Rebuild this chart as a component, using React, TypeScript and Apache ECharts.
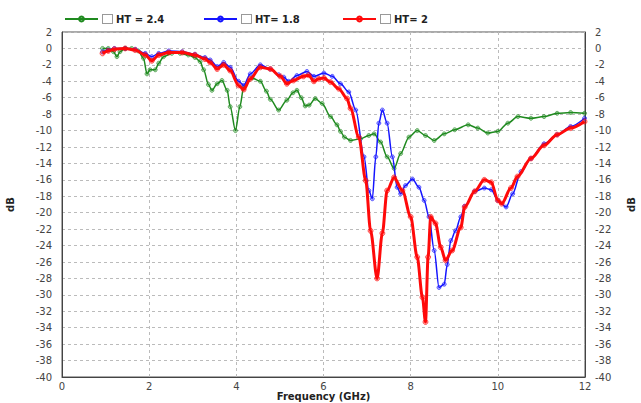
import React, { useEffect, useRef } from "react";
import * as echarts from "echarts";

const seriesNames = ["HT = 2.4", "HT= 1.8", "HT= 2"];
const seriesColors = ["#1f8a1f", "#1414ff", "#ff0a0a"];

const greenFreq = [0.93, 1.06, 1.18, 1.26, 1.33, 1.45, 1.6, 1.75, 1.87, 1.95, 2.02, 2.14, 2.22, 2.33, 2.52, 2.71, 2.9, 3.05, 3.17, 3.25, 3.36, 3.44, 3.56, 3.67, 3.79, 3.86, 3.98, 4.08, 4.17, 4.36, 4.55, 4.69, 4.78, 4.97, 5.16, 5.3, 5.39, 5.49, 5.58, 5.67, 5.81, 5.97, 6.16, 6.31, 6.39, 6.48, 6.62, 6.85, 7.04, 7.16, 7.31, 7.46, 7.62, 7.77, 7.96, 8.15, 8.34, 8.54, 8.77, 9.01, 9.32, 9.54, 9.77, 10.0, 10.23, 10.46, 10.76, 11.06, 11.36, 11.67, 11.99];
const greenDb = [0, 0, -0.4, -1.0, -0.4, 0, 0, -0.3, -1.2, -3.1, -2.6, -2.6, -1.8, -1.0, -0.6, -0.6, -0.8, -1.1, -1.6, -2.6, -4.4, -5.1, -4.3, -3.9, -5.1, -7.1, -10, -7.1, -4.7, -3.6, -4.0, -5.2, -6.2, -7.5, -6.3, -5.4, -5.1, -6.0, -7.0, -6.9, -6.1, -6.7, -8.3, -9.3, -10.1, -10.8, -11.2, -11.0, -10.6, -10.4, -11.4, -13.2, -14.6, -12.8, -10.8, -10.0, -10.6, -11.2, -10.4, -9.9, -9.3, -9.7, -10.3, -10.1, -9.1, -8.3, -8.5, -8.3, -7.9, -7.8, -7.9];

const blueFreq = [0.93, 1.06, 1.2, 1.45, 1.68, 1.91, 2.06, 2.22, 2.45, 2.76, 3.05, 3.28, 3.4, 3.56, 3.71, 3.86, 4.05, 4.17, 4.32, 4.55, 4.78, 4.97, 5.09, 5.2, 5.39, 5.62, 5.78, 6.01, 6.2, 6.39, 6.58, 6.74, 6.93, 7.04, 7.12, 7.2, 7.27, 7.35, 7.46, 7.58, 7.69, 7.77, 7.88, 8.04, 8.19, 8.31, 8.42, 8.54, 8.65, 8.77, 8.84, 8.92, 9.03, 9.15, 9.24, 9.47, 9.69, 9.85, 10.0, 10.19, 10.34, 10.53, 10.76, 11.06, 11.36, 11.67, 11.99];
const blueDb = [-0.4, -0.2, 0, 0, -0.1, -0.6, -1.0, -0.6, -0.3, -0.4, -0.7, -1.1, -1.4, -2.2, -1.7, -2.3, -4.0, -4.5, -3.1, -2.0, -2.5, -3.2, -3.5, -4.0, -3.3, -2.8, -3.4, -3.0, -3.4, -4.3, -5.3, -7.5, -13.2, -17.3, -18.3, -13.2, -9.1, -7.5, -9.1, -13.2, -16.9, -17.7, -16.7, -15.9, -16.9, -18.5, -20.5, -24.6, -29.1, -28.7, -26.3, -23.4, -22.2, -20.5, -19.2, -17.4, -17.0, -17.2, -18.5, -19.3, -17.7, -15.0, -13.4, -11.6, -10.5, -9.5, -8.5];

const redFreq = [0.93, 1.06, 1.2, 1.45, 1.68, 1.91, 2.06, 2.22, 2.45, 2.76, 3.05, 3.28, 3.4, 3.56, 3.71, 3.86, 4.05, 4.17, 4.32, 4.55, 4.78, 5.01, 5.16, 5.31, 5.54, 5.66, 5.78, 5.89, 6.01, 6.16, 6.35, 6.54, 6.62, 6.81, 6.97, 7.08, 7.23, 7.35, 7.46, 7.62, 7.81, 8.0, 8.15, 8.27, 8.34, 8.4, 8.46, 8.57, 8.69, 8.8, 8.95, 9.15, 9.24, 9.47, 9.69, 9.85, 10.0, 10.09, 10.3, 10.45, 10.76, 11.06, 11.36, 11.67, 11.99];
const redDb = [-0.6, -0.3, -0.1, 0, -0.2, -0.8, -1.5, -0.8, -0.5, -0.5, -0.8, -1.3, -1.7, -2.5, -2.0, -2.7, -4.5, -5.0, -3.7, -2.3, -2.5, -3.4, -4.3, -3.9, -3.4, -3.25, -4.0, -3.7, -3.6, -4.1, -4.9, -6.1, -7.3, -10.8, -16.1, -22.2, -28.0, -22.5, -17.3, -15.7, -17.3, -20.5, -25.4, -30.3, -33.3, -25.4, -20.5, -21.3, -24.2, -25.8, -24.6, -21.8, -19.3, -17.4, -16.0, -16.3, -18.5, -18.9, -17.0, -15.6, -13.4, -11.8, -10.5, -9.7, -8.9];

const xTicks = { min: 0, max: 12, interval: 2 };
const yTicks = { min: -40, max: 2, interval: 2 };

const FONT = "DejaVu Sans";

function pairs(f: number[], d: number[]) {
  return f.map((v, i) => [v, d[i]]);
}

export default function App() {
  const ref = useRef<HTMLDivElement>(null);
  useEffect(() => {
    if (!ref.current) return;
    const chart = echarts.init(ref.current, undefined, { renderer: "svg" });
    const data = [pairs(greenFreq, greenDb), pairs(blueFreq, blueDb), pairs(redFreq, redDb)];
    const widths = [1.5, 1.5, 3];
    const fills = ["rgba(31,138,31,0.35)", "rgba(20,20,255,0.35)", "rgba(255,10,10,0.35)"];
    const legendLefts = [59, 198, 337];
    const legendCommon = {
      top: 9,
      itemWidth: 33,
      itemHeight: 6,
      formatter: (name: string) => "{box|}{t|" + name + "}",
      textStyle: {
        fontFamily: FONT,
        fontSize: 10,
        fontWeight: "bold",
        color: "#222",
        rich: {
          box: {
            width: 9,
            height: 8,
            borderColor: "#999",
            borderWidth: 1,
            backgroundColor: "#fff",
          },
          t: {
            fontFamily: FONT,
            fontSize: 10,
            fontWeight: "bold",
            color: "#222",
            padding: [0, 0, 0, 4],
          },
        },
      },
    };
    const yAxisCommon = {
      type: "value",
      min: yTicks.min,
      max: yTicks.max,
      interval: yTicks.interval,
      name: "dB",
      nameLocation: "middle",
      nameRotate: 90,
      nameMoveOverlap: false,
      nameTextStyle: { fontFamily: FONT, fontSize: 10, fontWeight: "bold", color: "#222" },
      axisLine: { show: true, onZero: false, lineStyle: { color: "#444", width: 1 } },
      axisTick: { show: false },
      axisLabel: { fontFamily: FONT, fontSize: 10, color: "#444", margin: 10 },
    };
    chart.setOption({
      animation: false,
      backgroundColor: "#fff",
      grid: {
        left: 62,
        right: 56,
        top: 32,
        bottom: 26,
        show: true,
        borderColor: "#555",
        borderWidth: 1,
        containLabel: false,
        outerBoundsMode: "none",
      },
      legend: seriesNames.map((n, i) => ({ ...legendCommon, data: [n], left: legendLefts[i] })),
      xAxis: {
        type: "value",
        min: xTicks.min,
        max: xTicks.max,
        interval: xTicks.interval,
        name: "Frequency (GHz)",
        nameLocation: "middle",
        nameGap: 14,
        nameMoveOverlap: false,
        nameTextStyle: { fontFamily: FONT, fontSize: 10, fontWeight: "bold", color: "#222" },
        axisLine: { show: true, onZero: false, lineStyle: { color: "#444" } },
        axisTick: { show: false },
        axisLabel: { fontFamily: FONT, fontSize: 10, color: "#444", margin: 4 },
        splitLine: { show: true, lineStyle: { color: "#bbb", type: [3, 3], width: 1 } },
      },
      yAxis: [
        {
          ...yAxisCommon,
          position: "left",
          nameGap: 47,
          splitLine: { show: true, lineStyle: { color: "#bbb", type: [3, 3], width: 1 } },
        },
        {
          ...yAxisCommon,
          position: "right",
          nameGap: 41,
          splitLine: { show: false },
        },
      ],
      series: seriesNames.map((n, i) => ({
        name: n,
        type: "line",
        data: data[i],
        yAxisIndex: 0,
        smooth: 0.3,
        smoothMonotone: "x",
        symbol: "circle",
        symbolSize: i === 2 ? 5 : 4,
        showSymbol: true,
        lineStyle: { color: seriesColors[i], width: widths[i] },
        itemStyle: { color: fills[i], borderColor: seriesColors[i], borderWidth: 0.6 },
        z: i === 2 ? 4 : i === 1 ? 3 : 2,
      })),
    });
    return () => chart.dispose();
  }, []);
  return <div ref={ref} style={{ width: 641, height: 403, position: "absolute", left: 0, top: 0 }} />;
}
